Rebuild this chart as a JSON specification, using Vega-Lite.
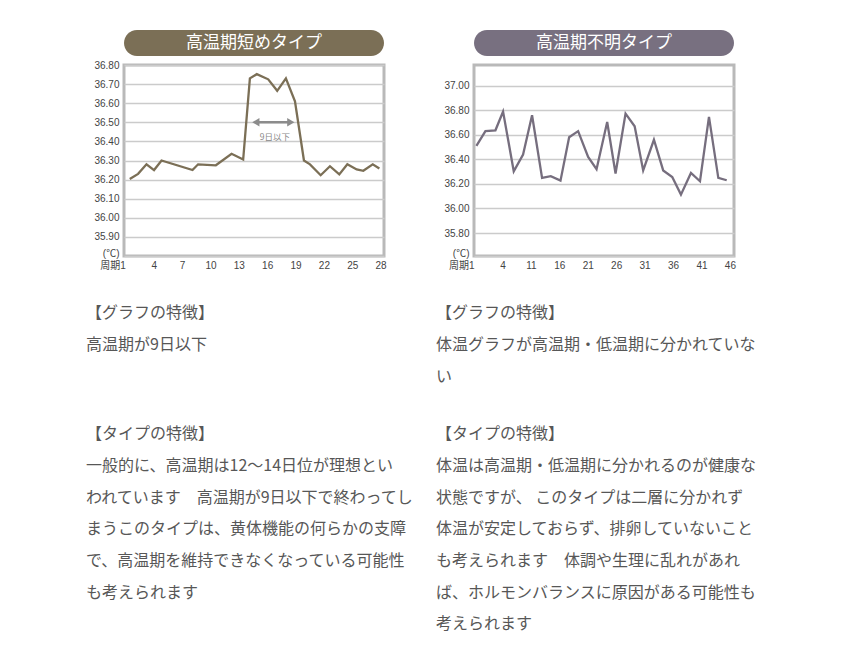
{
  "$schema": "https://vega.github.io/schema/vega-lite/v6.json",
  "background": "white",
  "padding": {"left": 86, "top": 30, "right": 5, "bottom": 5},
  "config": {
    "view": {"stroke": null},
    "font": "Noto Sans CJK JP",
    "axis": {
      "labelFont": "Liberation Sans, Noto Sans CJK JP",
      "labelFontSize": 10,
      "labelColor": "#444444",
      "domain": false,
      "ticks": false,
      "labelFlush": false,
      "labelOverlap": false,
      "gridColor": "#cbcbcb",
      "gridWidth": 1.5
    }
  },
  "bounds": "flush",
  "align": "each",
  "columns": 2,
  "spacing": {"row": 9, "column": 90},
  "datasets": {
    "short": [
      {"day": 1.46, "temp": 36.203},
      {"day": 2.34, "temp": 36.23},
      {"day": 3.23, "temp": 36.28},
      {"day": 4.03, "temp": 36.25},
      {"day": 4.82, "temp": 36.30},
      {"day": 8.10, "temp": 36.25},
      {"day": 8.69, "temp": 36.28},
      {"day": 10.57, "temp": 36.275},
      {"day": 12.23, "temp": 36.335},
      {"day": 13.46, "temp": 36.305},
      {"day": 14.17, "temp": 36.73},
      {"day": 14.9, "temp": 36.752},
      {"day": 16.11, "temp": 36.725},
      {"day": 17.06, "temp": 36.665},
      {"day": 17.98, "temp": 36.73},
      {"day": 18.94, "temp": 36.61},
      {"day": 19.89, "temp": 36.30},
      {"day": 20.53, "temp": 36.28},
      {"day": 21.66, "temp": 36.223},
      {"day": 22.64, "temp": 36.27},
      {"day": 23.63, "temp": 36.227},
      {"day": 24.48, "temp": 36.28},
      {"day": 25.47, "temp": 36.253},
      {"day": 26.17, "temp": 36.246},
      {"day": 27.17, "temp": 36.28},
      {"day": 27.87, "temp": 36.258}
    ],
    "unclear": [
      {"day": 1.42, "temp": 36.51},
      {"day": 3.01, "temp": 36.63},
      {"day": 4.77, "temp": 36.637},
      {"day": 6.11, "temp": 36.79},
      {"day": 7.99, "temp": 36.303},
      {"day": 9.63, "temp": 36.44},
      {"day": 11.21, "temp": 36.76},
      {"day": 12.97, "temp": 36.25},
      {"day": 14.50, "temp": 36.263},
      {"day": 16.21, "temp": 36.227},
      {"day": 17.73, "temp": 36.58},
      {"day": 19.31, "temp": 36.63},
      {"day": 21.07, "temp": 36.42},
      {"day": 22.55, "temp": 36.32},
      {"day": 24.42, "temp": 36.705},
      {"day": 25.89, "temp": 36.285},
      {"day": 27.65, "temp": 36.773},
      {"day": 29.25, "temp": 36.67},
      {"day": 30.75, "temp": 36.31},
      {"day": 32.64, "temp": 36.56},
      {"day": 34.27, "temp": 36.31},
      {"day": 35.86, "temp": 36.257},
      {"day": 37.39, "temp": 36.113},
      {"day": 39.15, "temp": 36.29},
      {"day": 40.74, "temp": 36.222},
      {"day": 42.32, "temp": 36.746},
      {"day": 43.96, "temp": 36.249},
      {"day": 45.44, "temp": 36.23}
    ],
    "span": [
      {"day": 14.8, "dayEnd": 18.5, "temp": 36.5}
    ],
    "heads": [
      {"day": 14.8, "temp": 36.5, "dir": "left"},
      {"day": 18.5, "temp": 36.5, "dir": "right"}
    ],
    "note": [
      {"day": 16.82, "temp": 36.424, "label": "9日以下"}
    ]
  },
  "concat": [
    {
      "width": 260,
      "height": 26,
      "data": {"values": [{"title": "高温期短めタイプ"}]},
      "layer": [
        {"mark": {"type": "rect", "cornerRadius": 13, "color": "#7b6f56"}},
        {"mark": {"type": "text", "color": "white", "fontSize": 17}, "encoding": {"text": {"field": "title"}}}
      ]
    },
    {
      "width": 260,
      "height": 26,
      "data": {"values": [{"title": "高温期不明タイプ"}]},
      "layer": [
        {"mark": {"type": "rect", "cornerRadius": 13, "color": "#787080"}},
        {"mark": {"type": "text", "color": "white", "fontSize": 17}, "encoding": {"text": {"field": "title"}}}
      ]
    },
    {
      "width": 260,
      "height": 191,
      "view": {"stroke": "#b9b9b9", "strokeWidth": 3},
      "encoding": {
        "x": {
          "field": "day", "type": "quantitative",
          "scale": {"domain": [0.85, 28.36], "nice": false, "zero": false},
          "axis": {
            "title": null, "grid": false, "labelPadding": 4,
            "values": [1, 4, 7, 10, 13, 16, 19, 22, 25, 28],
            "labelExpr": "datum.value == 1 ? '周期1' : datum.label",
            "labelAlign": {"condition": {"test": "datum.value == 1", "value": "right"}, "value": "center"}
          }
        },
        "y": {
          "field": "temp", "type": "quantitative",
          "scale": {"domain": [35.8, 36.8], "nice": false, "zero": false},
          "axis": {
            "title": null, "grid": true, "labelPadding": 5,
            "values": [35.8, 35.9, 36.0, 36.1, 36.2, 36.3, 36.4, 36.5, 36.6, 36.7, 36.8],
            "labelExpr": "datum.value < 35.85 ? '(℃)' : format(datum.value, '.2f')",
            "labelBaseline": {"condition": {"test": "datum.value < 35.85", "value": "alphabetic"}, "value": "middle"}
          }
        }
      },
      "layer": [
        {
          "data": {"name": "short"},
          "mark": {"type": "line", "color": "#7b6f56", "strokeWidth": 2.3}
        },
        {
          "data": {"name": "span"},
          "mark": {"type": "rule", "color": "#8c8c8c", "strokeWidth": 2.5},
          "encoding": {"x2": {"field": "dayEnd"}}
        },
        {
          "data": {"name": "heads"},
          "mark": {"type": "point", "filled": true, "color": "#8c8c8c", "opacity": 1, "size": 70},
          "encoding": {
            "shape": {"field": "dir", "type": "nominal", "scale": {"domain": ["left", "right"], "range": ["triangle-left", "triangle-right"]}, "legend": null}
          }
        },
        {
          "data": {"name": "note"},
          "mark": {"type": "text", "color": "#888888", "fontSize": 8.5},
          "encoding": {"text": {"field": "label"}}
        }
      ]
    },
    {
      "width": 260,
      "height": 191,
      "view": {"stroke": "#b9b9b9", "strokeWidth": 3},
      "data": {"name": "unclear"},
      "mark": {"type": "line", "color": "#766e7e", "strokeWidth": 2.3},
      "encoding": {
        "x": {
          "field": "day", "type": "quantitative",
          "scale": {"domain": [1, 46.72], "nice": false, "zero": false},
          "axis": {
            "title": null, "grid": false, "labelPadding": 4,
            "values": [1, 6, 11, 16, 21, 26, 31, 36, 41, 46],
            "labelExpr": "datum.value == 1 ? '周期1' : datum.value == 6 ? '4' : datum.label",
            "labelAlign": {"condition": {"test": "datum.value == 1", "value": "right"}, "value": "center"}
          }
        },
        "y": {
          "field": "temp", "type": "quantitative",
          "scale": {"domain": [35.613, 37.169], "nice": false, "zero": false},
          "axis": {
            "title": null, "grid": true, "labelPadding": 5,
            "values": [35.613, 35.8, 36.0, 36.2, 36.4, 36.6, 36.8, 37.0],
            "labelExpr": "datum.value < 35.7 ? '(℃)' : format(datum.value, '.2f')",
            "labelBaseline": {"condition": {"test": "datum.value < 35.7", "value": "alphabetic"}, "value": "middle"}
          }
        }
      }
    },
    {
      "width": 260,
      "height": 112,
      "data": {"values": [
        {"line": 1, "text": "【グラフの特徴】"},
        {"line": 2, "text": "高温期が9日以下"}
      ]},
      "mark": {"type": "text", "align": "left", "baseline": "middle", "dx": -38, "fontSize": 16, "color": "#575757"},
      "encoding": {
        "x": {"value": 0},
        "y": {"field": "line", "type": "quantitative", "scale": {"domain": [-0.525, 3.011], "reverse": true, "nice": false, "zero": false}, "axis": null},
        "text": {"field": "text"}
      }
    },
    {
      "width": 260,
      "height": 112,
      "data": {"values": [
        {"line": 1, "text": "【グラフの特徴】"},
        {"line": 2, "text": "体温グラフが高温期・低温期に分かれていな"},
        {"line": 3, "text": "い"}
      ]},
      "mark": {"type": "text", "align": "left", "baseline": "middle", "dx": -38, "fontSize": 16, "color": "#575757"},
      "encoding": {
        "x": {"value": 0},
        "y": {"field": "line", "type": "quantitative", "scale": {"domain": [-0.525, 3.011], "reverse": true, "nice": false, "zero": false}, "axis": null},
        "text": {"field": "text"}
      }
    },
    {
      "width": 260,
      "height": 240,
      "data": {"values": [
        {"line": 1, "text": "【タイプの特徴】"},
        {"line": 2, "text": "一般的に、高温期は12～14日位が理想とい"},
        {"line": 3, "text": "われています　高温期が9日以下で終わってし"},
        {"line": 4, "text": "まうこのタイプは、黄体機能の何らかの支障"},
        {"line": 5, "text": "で、高温期を維持できなくなっている可能性"},
        {"line": 6, "text": "も考えられます"}
      ]},
      "mark": {"type": "text", "align": "left", "baseline": "middle", "dx": -38, "fontSize": 16, "color": "#575757"},
      "encoding": {
        "x": {"value": 0},
        "y": {"field": "line", "type": "quantitative", "scale": {"domain": [-0.525, 7.053], "reverse": true, "nice": false, "zero": false}, "axis": null},
        "text": {"field": "text"}
      }
    },
    {
      "width": 260,
      "height": 240,
      "data": {"values": [
        {"line": 1, "text": "【タイプの特徴】"},
        {"line": 2, "text": "体温は高温期・低温期に分かれるのが健康な"},
        {"line": 3, "text": "状態ですが、 このタイプは二層に分かれず"},
        {"line": 4, "text": "体温が安定しておらず、排卵していないこと"},
        {"line": 5, "text": "も考えられます　体調や生理に乱れがあれ"},
        {"line": 6, "text": "ば、ホルモンバランスに原因がある可能性も"},
        {"line": 7, "text": "考えられます"}
      ]},
      "mark": {"type": "text", "align": "left", "baseline": "middle", "dx": -38, "fontSize": 16, "color": "#575757"},
      "encoding": {
        "x": {"value": 0},
        "y": {"field": "line", "type": "quantitative", "scale": {"domain": [-0.525, 7.053], "reverse": true, "nice": false, "zero": false}, "axis": null},
        "text": {"field": "text"}
      }
    }
  ]
}
